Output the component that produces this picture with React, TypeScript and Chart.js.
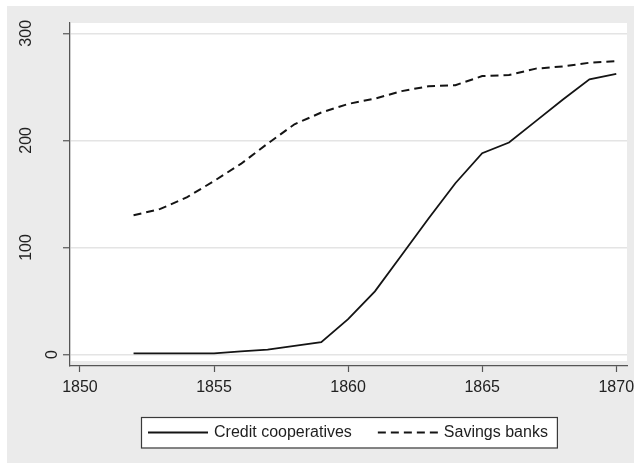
import { useEffect, useRef } from "react";
import { Chart, registerables, Plugin } from "chart.js";

Chart.register(...registerables);

// Data
const years = [
  1852, 1853, 1854, 1855, 1856, 1857, 1858, 1859, 1860, 1861, 1862, 1863,
  1864, 1865, 1866, 1867, 1868, 1869, 1870,
];
const creditCooperatives = [
  1, 1, 1, 1, 3, 4.5, 8, 11.5, 33, 59, 93, 127, 160, 188, 198, 218, 238, 257,
  262,
];
const savingsBanks = [
  130, 136, 147, 162, 178, 197, 215, 226, 234, 239, 246, 250.5, 251.5, 260,
  261, 267, 269, 272.5, 274,
];
const seriesLabels = ["Credit cooperatives", "Savings banks"];
const xTicks = [1850, 1855, 1860, 1865, 1870];
const yTicks = [0, 100, 200, 300];

const FONT = "'Liberation Sans', Arial, Helvetica, sans-serif";
const AXIS = "#555555";
const INK = "#141414";

// White plot region, slightly inset from the axis lines (Stata style)
const plotBackground: Plugin = {
  id: "plotBackground",
  beforeDraw(chart) {
    const { ctx, chartArea: a } = chart;
    ctx.save();
    ctx.fillStyle = "#ffffff";
    ctx.fillRect(a.left + 1, a.top, a.right - a.left - 1, a.bottom - a.top - 5);
    ctx.restore();
  },
};

// Boxed legend with long line samples, centred under the plot
const boxedLegend: Plugin = {
  id: "boxedLegend",
  afterDraw(chart) {
    const { ctx, chartArea: a } = chart;
    const sets = chart.data.datasets as any[];
    const sample = 60;
    const gap = 6;
    const spacing = 26;
    const padL = 7;
    const padR = 9;
    const boxH = 30.5;
    ctx.save();
    ctx.font = `16px ${FONT}`;
    const widths = sets.map((d) => ctx.measureText(d.label).width);
    const total =
      padL +
      padR +
      widths.reduce((s, w) => s + sample + gap + w, 0) +
      spacing * (sets.length - 1);
    const left = Math.round((a.left + a.right) / 2 - total / 2);
    const top = a.bottom + 51;

    ctx.fillStyle = "#ffffff";
    ctx.fillRect(left, top, total, boxH);
    ctx.strokeStyle = "#3a3a3a";
    ctx.lineWidth = 1.2;
    ctx.strokeRect(left + 0.5, top + 0.5, total, boxH);

    const cy = top + 15.5;
    let x = left + padL;
    sets.forEach((d, i) => {
      ctx.beginPath();
      ctx.setLineDash(d.borderDash || []);
      ctx.strokeStyle = d.borderColor;
      ctx.lineWidth = d.borderWidth;
      ctx.moveTo(x, cy);
      ctx.lineTo(x + sample, cy);
      ctx.stroke();
      ctx.setLineDash([]);
      ctx.fillStyle = "#1e1e1e";
      ctx.textBaseline = "middle";
      ctx.textAlign = "left";
      ctx.fillText(d.label, x + sample + gap, cy);
      x += sample + gap + widths[i] + spacing;
    });
    ctx.restore();
  },
};

export default function App() {
  const chartRef = useRef<HTMLCanvasElement>(null);

  useEffect(() => {
    if (!chartRef.current) return;
    Chart.defaults.font.family = FONT;

    const chart = new Chart(chartRef.current, {
      type: "line",
      data: {
        datasets: [
          {
            label: seriesLabels[0],
            data: years.map((x, i) => ({ x, y: creditCooperatives[i] })),
            borderColor: INK,
            borderWidth: 1.8,
            pointRadius: 0,
            tension: 0,
          },
          {
            label: seriesLabels[1],
            data: years.map((x, i) => ({ x, y: savingsBanks[i] })),
            borderColor: INK,
            borderWidth: 2,
            borderDash: [8, 5],
            pointRadius: 0,
            tension: 0,
          },
        ],
      },
      options: {
        animation: false,
        responsive: false,
        layout: { padding: { top: 17, right: 7, bottom: 0, left: 0 } },
        plugins: {
          legend: { display: false },
          tooltip: { enabled: false },
        },
        scales: {
          x: {
            type: "linear",
            min: 1849.63,
            max: 1870.4,
            afterBuildTicks: (scale) => {
              scale.ticks = xTicks.map((value) => ({ value }));
            },
            afterFit: (scale: any) => {
              scale.height = 97;
              scale.paddingLeft = 0;
              scale.paddingRight = 0;
            },
            grid: {
              drawOnChartArea: false,
              drawTicks: true,
              tickLength: 6,
              tickColor: AXIS,
              tickWidth: 1.2,
            },
            border: { color: AXIS, width: 1.2 },
            ticks: {
              color: "#222222",
              font: { size: 16 },
              padding: 6,
              maxRotation: 0,
              autoSkip: false,
              callback: (v) => String(v),
            },
          },
          y: {
            type: "linear",
            min: -10.7,
            max: 309.6,
            afterBuildTicks: (scale) => {
              scale.ticks = yTicks.map((value) => ({ value }));
            },
            afterFit: (scale: any) => {
              scale.width = 63;
              scale.paddingTop = 0;
              scale.paddingBottom = 0;
            },
            grid: {
              color: "#e4e4e4",
              lineWidth: 1.5,
              tickLength: 7,
              tickColor: AXIS,
              tickWidth: 1.2,
            },
            border: { color: AXIS, width: 1.2 },
            ticks: {
              color: "#222222",
              // the "0" label sits closer to the axis than the others
              font: (c: any) =>
                c.tick && c.tick.value === 0
                  ? { size: 16, lineHeight: 3.25 }
                  : { size: 16 },
              minRotation: 90,
              maxRotation: 90,
              crossAlign: "center",
              padding: 23,
              callback: (v) => (Number(v) === 0 ? ["", String(v)] : String(v)),
            },
          },
        },
      },
      plugins: [plotBackground, boxedLegend],
    });

    return () => {
      chart.destroy();
    };
  }, []);

  return (
    <div
      style={{
        position: "absolute",
        left: 0,
        top: 0,
        width: 634,
        height: 466,
        background: "#ffffff",
      }}
    >
      <div
        style={{
          position: "absolute",
          left: 7,
          top: 6,
          width: 627,
          height: 457,
          background: "#ebebeb",
        }}
      >
        <canvas ref={chartRef} width={627} height={457} />
      </div>
    </div>
  );
}
